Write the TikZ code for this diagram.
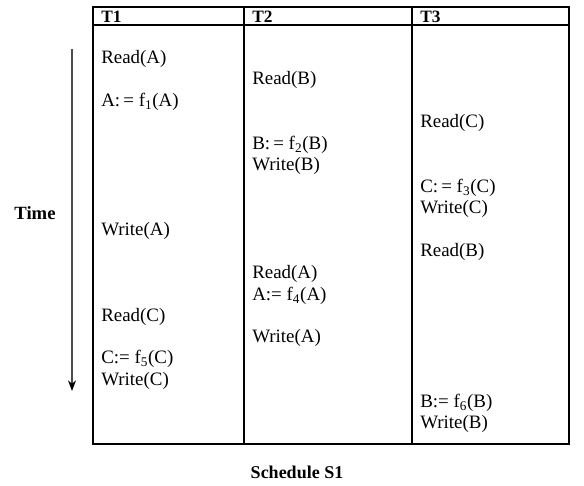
\documentclass[tikz,border=0pt]{standalone}
\usepackage{fontspec}
\setmainfont{Liberation Serif}
\usetikzlibrary{arrows.meta}

\begin{document}
\begin{tikzpicture}[x=0.75pt,y=-0.75pt,node font=\fontsize{14.2}{17}\selectfont,
        op/.style={anchor=west,inner sep=0pt},
        hd/.style={anchor=west,inner sep=0pt,font=\bfseries\fontsize{13}{15}\selectfont}]
        \useasboundingbox (0,0) rectangle (584,485);
        % table
        \draw[thick] (93,7) rectangle (569,444);
        \draw[thick] (93,25) -- (569,25);
        \draw[thick] (244,7) -- (244,444);
        \draw[thick] (412,7) -- (412,444);
        \node[hd] (h1) at (101,17) {T1};
        \node[hd] (h2) at (252,17) {T2};
        \node[hd] (h3) at (420,17) {T3};
        % T1
        \node[op] (a1) at (101,59) {Read(A)};
        \node[op] (a2) at (101,102) {A:\,= f\textsubscript{1}(A)};
        \node[op] (a3) at (101,231) {Write(A)};
        \node[op] (a4) at (101,317) {Read(C)};
        \node[op] (a5) at (101,359) {C:= f\textsubscript{5}(C)};
        \node[op] (a6) at (101,381) {Write(C)};
        % T2
        \node[op] (b1) at (252,80) {Read(B)};
        \node[op] (b2) at (252,145) {B:\,= f\textsubscript{2}(B)};
        \node[op] (b3) at (252,166) {Write(B)};
        \node[op] (b4) at (252,274) {Read(A)};
        \node[op] (b5) at (252,296) {A:= f\textsubscript{4}(A)};
        \node[op] (b6) at (252,338) {Write(A)};
        % T3
        \node[op] (c1) at (420,123) {Read(C)};
        \node[op] (c2) at (420,188) {C:\,= f\textsubscript{3}(C)};
        \node[op] (c3) at (420,209) {Write(C)};
        \node[op] (c4) at (420,252) {Read(B)};
        \node[op] (c5) at (420,403) {B:= f\textsubscript{6}(B)};
        \node[op] (c6) at (420,424) {Write(B)};
        % time axis
        \coordinate (ttop) at (72,49);
        \coordinate (tbot) at (72,391);
        \draw[gray!60!black, thick, arrows={-Stealth[length=8pt,width=6pt,black]}] (ttop) -- (tbot);
        \node[font=\bfseries\fontsize{14}{16}\selectfont] (time) at (35,213) {Time};
        \node[font=\bfseries\fontsize{13.5}{16}\selectfont] (title) at (297,472) {Schedule S1};
      \end{tikzpicture}
\end{document}
